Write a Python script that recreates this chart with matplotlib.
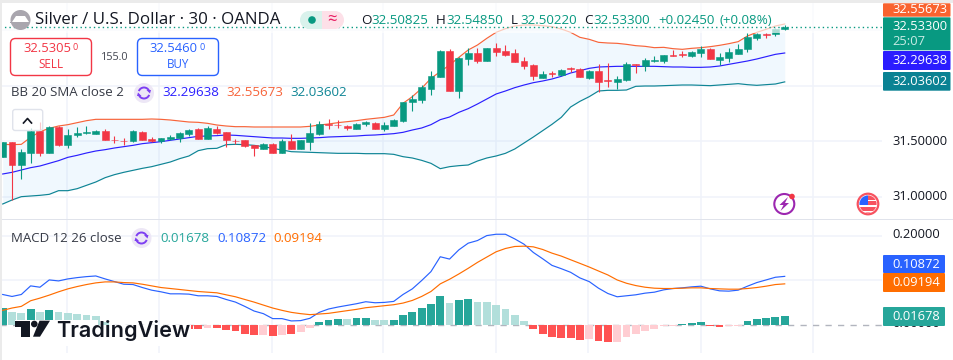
import matplotlib
matplotlib.use("Agg")
import matplotlib.pyplot as plt
from matplotlib.patches import Rectangle, FancyBboxPatch, Circle, Arc, Polygon
import numpy as np

plt.rcParams['font.family'] = ['Open Sans', 'DejaVu Sans']

# ---------- data ----------
opens = [31.363,31.495,31.291,31.399,31.594,31.399,31.633,31.468,31.558,31.576,31.570,31.594,31.516,31.507,31.504,31.585,31.519,31.501,31.525,31.528,31.570,31.615,31.525,31.615,31.585,31.507,31.513,31.468,31.435,31.477,31.399,31.504,31.432,31.495,31.567,31.657,31.651,31.639,31.615,31.654,31.666,31.612,31.639,31.687,31.858,31.873,31.975,32.080,32.314,31.957,32.242,32.293,32.227,32.341,32.314,32.296,32.224,32.188,32.074,32.113,32.095,32.161,32.149,32.074,32.134,32.053,32.038,32.053,32.197,32.179,32.224,32.224,32.278,32.284,32.269,32.299,32.329,32.236,32.254,32.290,32.329,32.434,32.467,32.464,32.50825]
highs = [31.495,31.495,31.429,31.618,31.678,31.639,31.639,31.612,31.633,31.639,31.603,31.612,31.549,31.531,31.600,31.591,31.540,31.531,31.558,31.582,31.609,31.624,31.639,31.639,31.585,31.522,31.513,31.468,31.486,31.483,31.519,31.567,31.516,31.663,31.684,31.702,31.690,31.645,31.669,31.684,31.675,31.675,31.702,31.858,31.918,32.005,32.134,32.323,32.329,32.263,32.338,32.341,32.341,32.386,32.365,32.329,32.260,32.197,32.134,32.134,32.149,32.167,32.158,32.140,32.194,32.203,32.089,32.215,32.197,32.248,32.266,32.278,32.323,32.314,32.314,32.356,32.341,32.293,32.338,32.377,32.473,32.473,32.479,32.518,32.5485]
lows = [31.363,30.973,31.165,31.309,31.369,31.399,31.462,31.444,31.543,31.567,31.567,31.513,31.483,31.468,31.498,31.513,31.492,31.489,31.513,31.498,31.552,31.519,31.519,31.570,31.450,31.477,31.450,31.372,31.435,31.399,31.399,31.435,31.432,31.423,31.558,31.615,31.624,31.606,31.609,31.642,31.612,31.591,31.639,31.678,31.777,31.849,31.918,32.080,31.957,31.894,32.191,32.209,32.227,32.272,32.272,32.218,32.155,32.053,32.074,32.083,32.089,32.128,32.080,32.065,31.948,31.993,31.972,32.044,32.119,32.137,32.218,32.209,32.272,32.260,32.260,32.263,32.245,32.188,32.218,32.290,32.308,32.413,32.434,32.452,32.5022]
closes = [31.495,31.291,31.405,31.594,31.399,31.633,31.468,31.558,31.579,31.585,31.594,31.513,31.513,31.501,31.594,31.513,31.501,31.531,31.537,31.576,31.603,31.525,31.621,31.579,31.516,31.501,31.459,31.438,31.477,31.399,31.504,31.435,31.516,31.576,31.657,31.651,31.648,31.624,31.657,31.675,31.615,31.648,31.693,31.855,31.882,31.987,32.089,32.314,31.957,32.251,32.293,32.227,32.341,32.305,32.281,32.218,32.182,32.089,32.107,32.107,32.143,32.155,32.080,32.134,32.035,32.047,32.062,32.197,32.191,32.230,32.233,32.275,32.272,32.278,32.302,32.329,32.245,32.257,32.302,32.329,32.440,32.467,32.461,32.512,32.533]
bb_upper = [31.474,31.471,31.474,31.537,31.588,31.618,31.639,31.651,31.669,31.687,31.699,31.699,31.699,31.699,31.699,31.699,31.702,31.699,31.693,31.684,31.675,31.672,31.663,31.648,31.639,31.633,31.633,31.630,31.630,31.630,31.630,31.630,31.630,31.636,31.648,31.657,31.669,31.678,31.687,31.699,31.708,31.717,31.738,31.843,31.903,31.978,32.068,32.128,32.188,32.257,32.323,32.368,32.428,32.482,32.515,32.539,32.548,32.548,32.542,32.533,32.512,32.482,32.437,32.419,32.392,32.386,32.383,32.374,32.362,32.356,32.344,32.347,32.335,32.329,32.338,32.344,32.353,32.365,32.380,32.398,32.449,32.482,32.509,32.539,32.557]
bb_mid = [31.207,31.222,31.243,31.264,31.279,31.303,31.327,31.357,31.375,31.396,31.414,31.426,31.441,31.453,31.465,31.480,31.489,31.498,31.510,31.522,31.534,31.546,31.549,31.552,31.558,31.555,31.549,31.543,31.537,31.531,31.531,31.528,31.528,31.531,31.534,31.540,31.543,31.546,31.549,31.555,31.558,31.564,31.570,31.582,31.603,31.621,31.651,31.696,31.720,31.762,31.795,31.837,31.882,31.927,31.954,31.984,32.008,32.029,32.044,32.062,32.086,32.116,32.137,32.158,32.170,32.173,32.176,32.176,32.176,32.176,32.176,32.173,32.170,32.170,32.167,32.167,32.170,32.179,32.194,32.209,32.224,32.242,32.263,32.284,32.296]
bb_lower = [30.937,30.973,31.003,31.009,31.015,31.024,31.057,31.057,31.075,31.105,31.135,31.174,31.201,31.222,31.240,31.258,31.273,31.294,31.315,31.345,31.369,31.417,31.435,31.438,31.471,31.474,31.471,31.465,31.453,31.438,31.423,31.408,31.405,31.402,31.399,31.396,31.393,31.393,31.393,31.390,31.390,31.390,31.384,31.363,31.351,31.330,31.303,31.255,31.273,31.282,31.288,31.324,31.351,31.369,31.393,31.432,31.486,31.540,31.597,31.654,31.717,31.810,31.861,31.903,31.954,31.960,31.960,31.963,31.996,31.999,31.999,32.002,32.005,32.008,32.008,32.005,32.002,32.008,32.014,32.020,32.011,32.005,32.011,32.017,32.036]
macd = [.0681,.0637,.0681,.0874,.0844,.1007,.0985,.1030,.1059,.1081,.1096,.1030,.0970,.0911,.0904,.0837,.0778,.0741,.0696,.0696,.0689,.0652,.0652,.0637,.0570,.0511,.0415,.0311,.0252,.0141,.0141,.0089,.0096,.0148,.0281,.0356,.0400,.0437,.0474,.0519,.0496,.0504,.0526,.0681,.0807,.0993,.1193,.1526,.1474,.1681,.1830,.1889,.2000,.2030,.2030,.1926,.1807,.1622,.1481,.1333,.1259,.1178,.1052,.0970,.0822,.0704,.0630,.0652,.0674,.0711,.0733,.0785,.0815,.0830,.0852,.0867,.0807,.0763,.0756,.0778,.0867,.0948,.1007,.1067,.1087]
signal = [.0326,.0378,.0415,.0541,.0600,.0667,.0741,.0807,.0859,.0904,.0941,.0963,.0963,.0948,.0941,.0911,.0874,.0837,.0815,.0793,.0770,.0748,.0733,.0719,.0674,.0630,.0570,.0511,.0444,.0378,.0326,.0281,.0252,.0230,.0244,.0259,.0289,.0319,.0348,.0385,.0407,.0430,.0452,.0489,.0548,.0637,.0748,.0919,.1022,.1141,.1267,.1400,.1519,.1637,.1711,.1756,.1763,.1748,.1689,.1607,.1541,.1459,.1378,.1296,.1207,.1119,.1007,.0933,.0881,.0844,.0822,.0815,.0815,.0822,.0830,.0830,.0815,.0807,.0800,.0800,.0815,.0837,.0867,.0904,.0919]
hist = [.0385,.0281,.0259,.0363,.0281,.0341,.0281,.0259,.0237,.0222,.0193,.0067,.0007,-.0037,-.0037,-.0074,-.0096,-.0096,-.0119,-.0097,-.0081,-.0089,-.0059,-.0074,-.0119,-.0141,-.0200,-.0230,-.0230,-.0252,-.0215,-.0207,-.0163,-.0074,.0059,.0104,.0126,.0126,.0148,.0148,.0104,.0104,.0104,.0215,.0281,.0370,.0459,.0637,.0481,.0548,.0570,.0504,.0504,.0437,.0348,.0215,.0081,-.0096,-.0207,-.0274,-.0296,-.0296,-.0341,-.0319,-.0363,-.0385,-.0385,-.0274,-.0207,-.0141,-.0096,-.0030,-.0015,.0015,.0037,.0059,-.0015,-.0052,-.0030,-.0030,.0081,.0126,.0148,.0170,.0193]
hist_shade = list("DLLDLDLLLLLLLDDDDDDDDDLDDDDDLDLDLLDDDLDDLLDDDDDDLDDLLLLLLDDDDDDLDDLLLLLLLDDDDDLLDDDDD")
price_ticks = [31.0, 31.5, 32.0, 32.5]
macd_ticks = [0.1, 0.2]
vgrid_pos = [6.87, 16.8, 28.9, 40.8, 52.95, 62.9, 75.0, 87.0]
last_price = 32.533

W, H = 954, 360
UP, DN = '#089981', '#f23645'
fig = plt.figure(figsize=(W/100, H/100), dpi=100, facecolor='white')

def axes_px(x0, y0, x1, y1, **kw):
    return fig.add_axes([x0/W, 1-y1/H, (x1-x0)/W, (y1-y0)/H], **kw)

n = len(closes)
idx = np.arange(n)
xlim = (-0.29, 94.45)

# ---------- price pane ----------
ax = axes_px(0, 3, 882, 219)
ax.set_xlim(*xlim)
ax.set_ylim(30.802, 32.746)
ax.axis('off')
for t in price_ticks:
    ax.axhline(t, color='#f0f3fa', lw=1.1, zorder=0)
for v in vgrid_pos:
    ax.axvline(v, color='#f0f3fa', lw=1.1, zorder=0)
ax.fill_between(idx, bb_lower, bb_upper, color='#90caf9', alpha=0.13, lw=0, zorder=1)
ax.plot(idx, bb_upper, color='#f7643a', lw=0.85, zorder=2)
ax.plot(idx, bb_mid, color='#2b1fff', lw=0.85, zorder=2)
ax.plot(idx, bb_lower, color='#0f8595', lw=0.85, zorder=2)
for i in range(n):
    c = UP if closes[i] >= opens[i] else DN
    z = 7 if i == n-1 else 3
    ax.vlines(i, lows[i], highs[i], color=c, lw=0.8, zorder=z)
    lo, hi = min(opens[i], closes[i]), max(opens[i], closes[i])
    ax.bar(i, hi-lo, bottom=lo, width=0.74, color=c, edgecolor=c, lw=0.4, zorder=z)
ax.axhspan(32.476, 32.746, color='white', alpha=0.66, lw=0, zorder=5)
ax.axhline(last_price, color=UP, lw=1.0, ls=(0, (1, 2.2)), zorder=6)

# ---------- MACD pane ----------
mx = axes_px(0, 220, 882, 353)
mx.set_xlim(*xlim)
mx.set_ylim(-0.0629, 0.2349)
mx.axis('off')
for t in macd_ticks:
    mx.axhline(t, color='#f0f3fa', lw=1.1, zorder=0)
for v in vgrid_pos:
    mx.axvline(v, color='#f0f3fa', lw=1.1, zorder=0)
mx.axhline(0, color='#b2b5be', lw=1.0, ls=(0, (4.5, 4.5)), zorder=1)
hcol = {('+','D'):'#26a69a', ('+','L'):'#b2dfdb', ('-','D'):'#ff5252', ('-','L'):'#ffcdd2'}
colors = [hcol[('+' if h >= 0 else '-', s)] for h, s in zip(hist, hist_shade)]
mx.bar(idx, hist, width=0.84, color=colors, lw=0, zorder=2)
mx.plot(idx, macd, color='#2962ff', lw=0.85, zorder=3)
mx.plot(idx, signal, color='#ff6d00', lw=0.85, zorder=3)

# ---------- overlay in pixel coordinates ----------
d = fig.add_axes([0, 0, 1, 1], facecolor='none')
d.set_xlim(0, W); d.set_ylim(H, 0); d.axis('off')

def T(x, y, s, c='#131722', fs=9.2, ha='left', va='center', **kw):
    return d.text(x, y, s, color=c, fontsize=fs, ha=ha, va=va, **kw)

# frame
d.add_patch(Rectangle((0, 0), W, 3, color='#ebebeb', lw=0))
d.add_patch(Rectangle((0, 0), 2, H, color='#ebebeb', lw=0))
d.add_patch(Rectangle((2, 218.6), W, 1.2, color='#e0e3eb', lw=0))

# title row
d.add_patch(Circle((20.5, 20), 10, color='#a9a6ae', lw=0))
d.add_patch(Polygon([(12, 22), (16, 16), (25, 16), (29, 22)], color='white', lw=0))
d.add_patch(Rectangle((10.5, 22), 20, 1.2, color='#a9a6ae', lw=0))
T(35.5, 20, 'Silver / U.S. Dollar · 30 · OANDA', fs=12.2)
d.add_patch(Rectangle((322, 11), 13, 18, color='#fde0e8', lw=0))
d.add_patch(Circle((335, 20), 9, color='#fde0e8', lw=0))
d.add_patch(Rectangle((309, 11), 13, 18, color='#d9f2ec', lw=0))
d.add_patch(Circle((309, 20), 9, color='#d9f2ec', lw=0))
d.add_patch(Circle((312, 20), 3.8, color='#089981', lw=0))
T(332, 20, '≈', c='#e91e63', fs=12, ha='center')

# OHLC
for x, s, c in [(361, 'O', '#131722'), (371, '32.50825', UP), (436, 'H', '#131722'), (446, '32.54850', UP),
                (511, 'L', '#131722'), (520, '32.50220', UP), (584, 'C', '#131722'), (593, '32.53300', UP),
                (658, '+0.02450', UP), (720, '(+0.08%)', UP)]:
    T(x, 21, s, c=c, fs=9.6)

# sell / buy
for x, c in [(10.5, '#f23645'), (137.5, '#2962ff')]:
    d.add_patch(FancyBboxPatch((x, 38.5), 81, 37, boxstyle='round,pad=0,rounding_size=5',
                               fc='white', ec=c, lw=1.0))
T(23, 49, '32.5305', c='#f23645', fs=9.4)
T(73, 47.5, '0', c='#f23645', fs=6.5)
T(51, 64.5, 'SELL', c='#f23645', fs=8.4, ha='center')
T(149.5, 49, '32.5460', c='#2962ff', fs=9.4)
T(200, 47.5, '0', c='#2962ff', fs=6.5)
T(178, 64.5, 'BUY', c='#2962ff', fs=8.4, ha='center')
T(115, 57, '155.0', c='#434651', fs=7.8, ha='center')

def refresh(x, y):
    d.add_patch(Circle((x, y), 10, color='#ede7f6', lw=0))
    d.add_patch(Arc((x, y), 11, 11, theta1=200, theta2=340, color='#7e3ff2', lw=1.4))
    d.add_patch(Arc((x, y), 11, 11, theta1=20, theta2=160, color='#7e3ff2', lw=1.4))
    d.add_patch(Polygon([(x+7, y-3), (x+2.5, y-3), (x+6, y+0.5)], color='#7e3ff2', lw=0))
    d.add_patch(Polygon([(x-7, y+3), (x-2.5, y+3), (x-6, y-0.5)], color='#7e3ff2', lw=0))

# BB legend
T(11.5, 93, 'BB 20 SMA close 2', c='#363a45', fs=9.5)
refresh(144, 93)
T(162, 93, '32.29638', c='#2b1fff', fs=9.6)
T(226, 93, '32.55673', c='#f7643a', fs=9.6)
T(290.5, 93, '32.03602', c='#0f8595', fs=9.6)

# collapse button
d.add_patch(FancyBboxPatch((12.7, 109.5), 30, 21, boxstyle='round,pad=0,rounding_size=2.5',
                           fc=(1, 1, 1, 0.72), ec='#e0e3eb', lw=1.0))
d.plot([23.5, 27.5, 31.5], [123, 118.5, 123], color='#131722', lw=1.2)

# MACD legend
T(11, 238, 'MACD 12 26 close', c='#363a45', fs=9.5)
refresh(141.5, 238)
T(160, 238, '0.01678', c='#26a69a', fs=9.6)
T(217, 238, '0.10872', c='#2962ff', fs=9.6)
T(273, 238, '0.09194', c='#ff6d00', fs=9.6)

# price scale labels
def tag(y0, y1, col, x1=950.5):
    d.add_patch(FancyBboxPatch((883, y0), x1-883, y1-y0, boxstyle='round,pad=0,rounding_size=1',
                               fc=col, ec='none', lw=0, zorder=2))
tag(3.3, 16.7, '#f9632f')
tag(17.3, 50.3, '#089981')
tag(51, 70, '#2b1cff')
tag(72, 90.7, '#0a8293')
T(892, 9.5, '32.55673', c='white', fs=9.3)
T(892, 26.5, '32.53300', c='white', fs=9.3)
T(892, 41.5, '25:07', c='#c8ece5', fs=9.3)
T(892, 60.5, '32.29638', c='white', fs=9.3)
T(892, 81.5, '32.03602', c='white', fs=9.3)
T(892, 141.5, '31.50000', fs=9.3)
T(892, 196.5, '31.00000', fs=9.3)
T(892, 234.5, '0.20000', fs=9.3)
T(892, 323.5, '0.00000', fs=9.3, zorder=1.5)
tag(255, 273, '#2962ff', 945)
tag(273, 292, '#ff6d00', 945)
tag(307, 326, '#26a69a', 945)
T(892, 264, '0.10872', c='white', fs=9.3)
T(892, 282.5, '0.09194', c='white', fs=9.3)
T(892, 316.5, '0.01678', c='white', fs=9.3)

# lightning badge
d.add_patch(Circle((784.3, 204), 10, fc='white', ec='#9c27b0', lw=1.5))
d.add_patch(Polygon([(788, 197), (779.5, 205), (783.5, 205), (780.5, 211), (789, 203), (785, 203)],
                    color='#9c27b0', lw=0))
d.add_patch(Circle((792, 196.5), 2.8, color='#f23645', lw=0))

# flag badge
clip = Circle((868, 204), 8.6, transform=d.transData)
d.add_patch(Circle((868, 204), 10.3, fc='white', ec='#f7525f', lw=1.6))
for y0, hh, col, x0, ww in [(195, 5, '#f7525f', 868, 11), (200.5, 4, '#f7525f', 868, 11),
                             (207, 4, '#f7525f', 858, 20), (212, 1, '#f7525f', 858, 20),
                             (195, 9.5, '#2962ff', 859, 9.5)]:
    r = Rectangle((x0, y0), ww, hh, color=col, lw=0)
    d.add_patch(r); r.set_clip_path(clip)

# TradingView logo
d.add_patch(Rectangle((15, 320), 83, 26, color='white', lw=0))
d.add_patch(Rectangle((98, 325), 93, 21, color='white', lw=0))
logo = '#131722'
d.add_patch(Polygon([(15, 320.7), (30, 320.7), (30, 336.7), (21, 336.7), (21, 327.3), (15, 327.3)], color=logo, lw=0))
d.add_patch(Circle((34.3, 324), 3.3, color=logo, lw=0))
d.add_patch(Polygon([(39.5, 320.7), (50, 320.7), (40, 336.7), (33, 336.7)], color=logo, lw=0))
T(56.5, 337, 'TradingView', c=logo, fs=15.6, va='baseline', family=['Inter', 'DejaVu Sans'], fontweight='semibold')

fig.savefig('out.png', dpi=100, facecolor='white')
